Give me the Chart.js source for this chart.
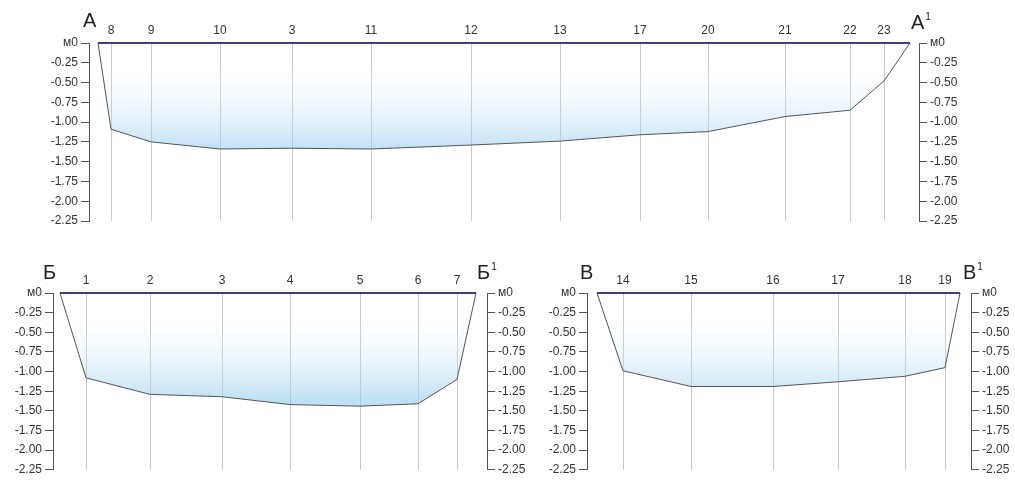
<!DOCTYPE html>
<html>
<head>
<meta charset="utf-8">
<script src="https://cdn.jsdelivr.net/npm/chart.js@4.4.1/dist/chart.umd.min.js"></script>
<style>
body { margin: 0; background: #fff; width: 1015px; height: 480px; position: relative; overflow: hidden;
       font-family: "Liberation Sans", Arial, sans-serif; }
canvas { position: absolute; }
.lbl { position: absolute; font-size: 20px; line-height: 1; color: #222; white-space: nowrap; }
.lbl span { font-size: 10px; position: relative; top: -9px; margin-left: 1px; }
</style>
</head>
<body>
<canvas id="cA" width="1015" height="240" style="left:0;top:0"></canvas>
<canvas id="cB" width="540" height="230" style="left:0;top:250px"></canvas>
<canvas id="cV" width="515" height="230" style="left:500px;top:250px"></canvas>

<div class="lbl" style="left:83px;top:10px">А</div>
<div class="lbl" style="left:911px;top:12px">А<span>1</span></div>
<div class="lbl" style="left:43px;top:262px">Б</div>
<div class="lbl" style="left:477px;top:262px">Б<span>1</span></div>
<div class="lbl" style="left:580px;top:262px">В</div>
<div class="lbl" style="left:963px;top:262px">В<span>1</span></div>

<script>
// подписи шкалы глубин
const depthTicks = ['м0', '-0.25', '-0.50', '-0.75', '-1.00', '-1.25', '-1.50', '-1.75', '-2.00', '-2.25'];

// профиль А - А1
const stationsA = ['8', '9', '10', '3', '11', '12', '13', '17', '20', '21', '22', '23'];
const distA = [13, 53, 122, 194, 273, 373, 462, 542, 610, 687, 752, 786];
const depthA = [-1.09, -1.25, -1.34, -1.33, -1.34, -1.29, -1.24, -1.16, -1.12, -0.93, -0.85, -0.48];
const widthA = 812;

// профиль Б - Б1
const stationsB = ['1', '2', '3', '4', '5', '6', '7'];
const distB = [26, 90, 162, 230, 300, 358, 397];
const depthB = [-1.08, -1.29, -1.32, -1.42, -1.44, -1.41, -1.10];
const widthB = 416;

// профиль В - В1
const stationsV = ['14', '15', '16', '17', '18', '19'];
const distV = [26, 94, 176, 241, 308, 348];
const depthV = [-0.99, -1.19, -1.19, -1.13, -1.06, -0.95];
const widthV = 363;

const tickFont = { family: 'Liberation Sans', size: 12 };

function depthAxis(position, boxWidth) {
    return {
        type: 'linear',
        position: position,
        min: -2.25,
        max: 0,
        ticks: {
            stepSize: 0.25,
            color: '#333',
            font: tickFont,
            padding: 3,
            callback: v => depthTicks[Math.round(-v / 0.25)]
        },
        grid: { drawOnChartArea: false, drawTicks: true, tickLength: 8, color: '#555' },
        border: { display: true, color: '#555', width: 1 },
        afterFit: s => { s.width = boxWidth; }
    };
}

function makeProfile(id, names, dist, depth, width, cfg) {
    const bottom = [{ x: 0, y: 0 }];
    dist.forEach((d, i) => bottom.push({ x: d, y: depth[i] }));
    bottom.push({ x: width, y: 0 });

    new Chart(document.getElementById(id), {
        type: 'line',
        data: {
            datasets: [
                {
                    // урез воды
                    data: [{ x: 0, y: 0 }, { x: width, y: 0 }],
                    borderColor: '#3f3d8c',
                    borderWidth: 2,
                    pointRadius: 0,
                    fill: false,
                    clip: 4
                },
                {
                    // дно
                    data: bottom,
                    borderColor: '#555',
                    borderWidth: 1,
                    pointRadius: 0,
                    tension: 0,
                    clip: 4,
                    fill: 'origin',
                    backgroundColor: ctx => {
                        const ch = ctx.chart;
                        const area = ch.chartArea;
                        if (!area) return 'rgba(160,210,240,0.5)';
                        const y0 = ch.scales.y.getPixelForValue(-0.2);
                        const yb = ch.scales.y.getPixelForValue(-1.35);
                        const g = ch.ctx.createLinearGradient(0, y0, 0, yb);
                        g.addColorStop(0, 'rgba(255,255,255,0)');
                        g.addColorStop(1, 'rgba(150,205,238,0.6)');
                        return g;
                    }
                }
            ]
        },
        options: {
            responsive: false,
            animation: false,
            devicePixelRatio: 1,
            layout: { padding: { top: 0, left: 0, right: 0, bottom: cfg.padBottom } },
            plugins: { legend: { display: false }, tooltip: { enabled: false } },
            scales: {
                x: {
                    type: 'linear',
                    position: 'top',
                    min: cfg.xmin,
                    max: cfg.xmax,
                    afterBuildTicks: s => { s.ticks = dist.map(v => ({ value: v })); },
                    ticks: {
                        autoSkip: false,
                        maxRotation: 0,
                        color: '#333',
                        font: tickFont,
                        padding: 5,
                        callback: (v, i) => names[i]
                    },
                    grid: { drawTicks: false, color: '#c8c8c8', lineWidth: 1 },
                    border: { display: false },
                    afterFit: s => { s.height = 43; }
                },
                y: depthAxis('left', cfg.leftW),
                yR: depthAxis('right', cfg.rightW)
            }
        }
    });
}

makeProfile('cA', stationsA, distA, depthA, widthA,
    { xmin: -9, xmax: 821, leftW: 89, rightW: 96, padBottom: 19 });
makeProfile('cB', stationsB, distB, depthB, widthB,
    { xmin: -7, xmax: 427, leftW: 53, rightW: 53, padBottom: 9 });
makeProfile('cV', stationsV, distV, depthV, widthV,
    { xmin: -10, xmax: 374, leftW: 87, rightW: 44, padBottom: 9 });
</script>
</body>
</html>
